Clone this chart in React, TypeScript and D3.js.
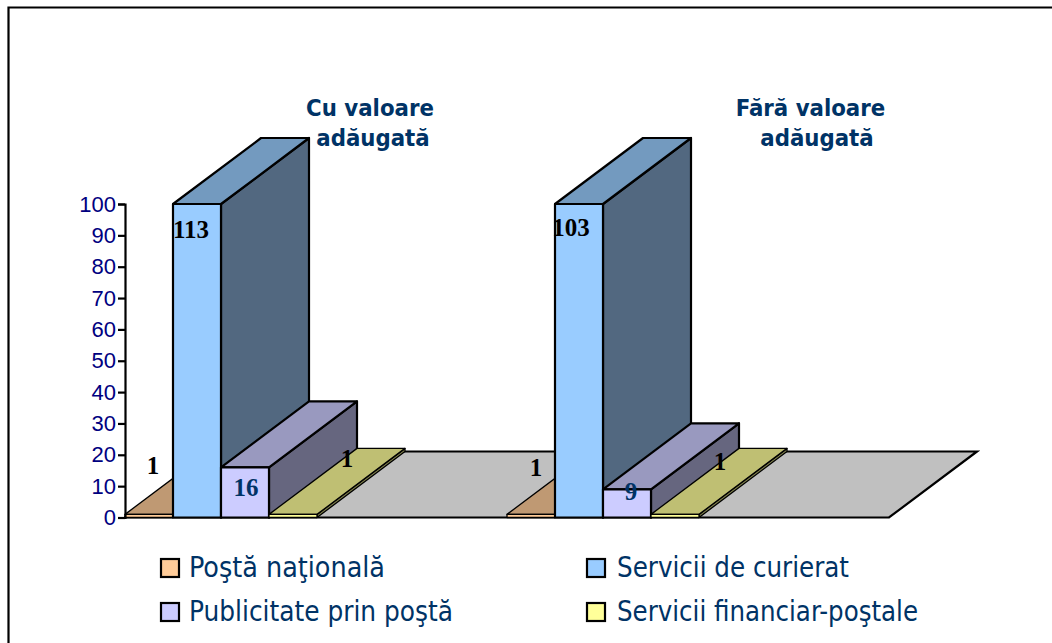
import { useEffect, useRef } from 'react';
import * as d3 from 'd3';

const groups = ['Cu valoare adăugată', 'Fără valoare adăugată'];
const seriesNames = ['Poştă naţională', 'Servicii de curierat', 'Publicitate prin poştă', 'Servicii financiar-poştale'];
const cuValoare = [1, 113, 16, 1];
const faraValoare = [1, 103, 9, 1];
const yTicks = [0, 10, 20, 30, 40, 50, 60, 70, 80, 90, 100];

const frontColors = ['#ffcc99', '#99ccff', '#ccccff', '#ffff99'];
const topColors = ['#bf9973', '#739abf', '#9999bf', '#bfbf73'];
const sideColors = ['#806650', '#526880', '#66667f', '#80804d'];
const labelColors = ['#000000', '#000000', '#003366', '#000000'];

const titleLines = [['Cu valoare', 'adăugată'], ['Fără valoare', 'adăugată']];

const App = () => {
    const svgRef = useRef<SVGSVGElement>(null);

    useEffect(() => {
        const svg = d3.select(svgRef.current);
        svg.selectAll('*').remove();

        const depthX = 88;
        const depthY = 66;
        const x0 = d3.scaleBand().domain(groups).range([125, 889]);
        const x1 = d3.scaleBand().domain(seriesNames).range([0, 192]);
        const y = d3.scaleLinear().domain([0, 100]).range([517.5, 204]).clamp(true);
        const line = d3.line();

        // frame, open on the right and at the bottom
        svg.append('path')
            .attr('d', 'M8.5,660V7.5H1060')
            .attr('fill', 'none')
            .attr('stroke', 'black')
            .attr('stroke-width', 2.2);

        // floor
        svg.append('path')
            .attr('d', line([[x0.range()[0], y(0)], [x0.range()[1], y(0)], [x0.range()[1] + depthX, y(0) - depthY], [x0.range()[0] + depthX, y(0) - depthY]]) + 'Z')
            .attr('fill', '#c0c0c0')
            .attr('stroke', 'black')
            .attr('stroke-width', 2.2);

        const values = [cuValoare, faraValoare];

        groups.forEach((g, gi) => {
            seriesNames.forEach((s, si) => {
                const left = x0(g)! + x1(s)!;
                const right = left + x1.bandwidth();
                const top = y(values[gi][si]);
                const base = y(0);
                // thin bars would vanish under a full width outline
                const sw = base - top < 5 ? 1.3 : 2.2;
                const bar = svg.append('g').attr('stroke', 'black').attr('stroke-width', sw).attr('stroke-linejoin', 'round');
                bar.append('path')
                    .attr('d', line([[right, top], [right + depthX, top - depthY], [right + depthX, base - depthY], [right, base]]) + 'Z')
                    .attr('fill', sideColors[si]);
                bar.append('path')
                    .attr('d', line([[left, top], [left + depthX, top - depthY], [right + depthX, top - depthY], [right, top]]) + 'Z')
                    .attr('fill', topColors[si]);
                bar.append('rect')
                    .attr('x', left)
                    .attr('y', top)
                    .attr('width', x1.bandwidth())
                    .attr('height', base - top)
                    .attr('fill', frontColors[si]);
            });
        });

        // value labels, placed like the original's
        const labelDx = [[28, 18, 25, 78], [29, 16, 28, 69]];
        const labelY = [[474, 238, 496, 467], [476, 236, 500, 470]];
        groups.forEach((g, gi) => {
            seriesNames.forEach((s, si) => {
                svg.append('text')
                    .attr('x', x0(g)! + x1(s)! + labelDx[gi][si])
                    .attr('y', labelY[gi][si])
                    .attr('text-anchor', 'middle')
                    .attr('font-family', 'Liberation Serif')
                    .attr('font-weight', 'bold')
                    .attr('font-size', 25)
                    .attr('fill', labelColors[si])
                    .text(values[gi][si]);
            });
        });

        // axis
        const axis = svg.append('g')
            .attr('transform', 'translate(125,0)')
            .call(d3.axisLeft(y).tickValues(yTicks).tickSize(7).tickSizeOuter(7).tickPadding(2).tickFormat(d3.format('d')));
        axis.selectAll('path,line').attr('stroke', 'black').attr('stroke-width', 2.2);
        axis.selectAll('text')
            .attr('font-family', 'Liberation Sans')
            .attr('font-size', 22)
            .attr('fill', '#000080');

        // titles
        const titleX = [[370, 373], [810.5, 817]];
        titleLines.forEach((lines, i) => {
            lines.forEach((t, j) => {
                svg.append('text')
                    .attr('x', titleX[i][j])
                    .attr('y', 116 + j * 30)
                    .attr('text-anchor', 'middle')
                    .attr('font-family', 'DejaVu Sans')
                    .attr('font-stretch', 'condensed')
                    .attr('font-weight', 'bold')
                    .attr('font-size', 23.7)
                    .attr('fill', '#003366')
                    .text(t);
            });
        });

        // legend
        const legendX = [161, 587];
        const legendY = [568, 612];
        const legendTextX = [189, 617];
        const legendTextLen = [196, 232, 264, 301];
        seriesNames.forEach((s, i) => {
            const col = i % 2;
            const ly = legendY[Math.floor(i / 2)];
            svg.append('rect')
                .attr('x', legendX[col])
                .attr('y', ly - 9)
                .attr('width', 18)
                .attr('height', 18)
                .attr('fill', frontColors[i])
                .attr('stroke', 'black')
                .attr('stroke-width', 2.2);
            svg.append('text')
                .attr('x', legendTextX[col])
                .attr('y', ly + 9)
                .attr('font-family', 'DejaVu Sans')
                .attr('font-stretch', 'condensed')
                .attr('font-size', 28)
                .attr('textLength', legendTextLen[i])
                .attr('lengthAdjust', 'spacingAndGlyphs')
                .attr('fill', '#003366')
                .text(s);
        });
    }, []);

    return (
        <svg ref={svgRef} width={1052} height={643} style={{ position: 'absolute', left: 0, top: 0 }}></svg>
    );
};

export default App;
